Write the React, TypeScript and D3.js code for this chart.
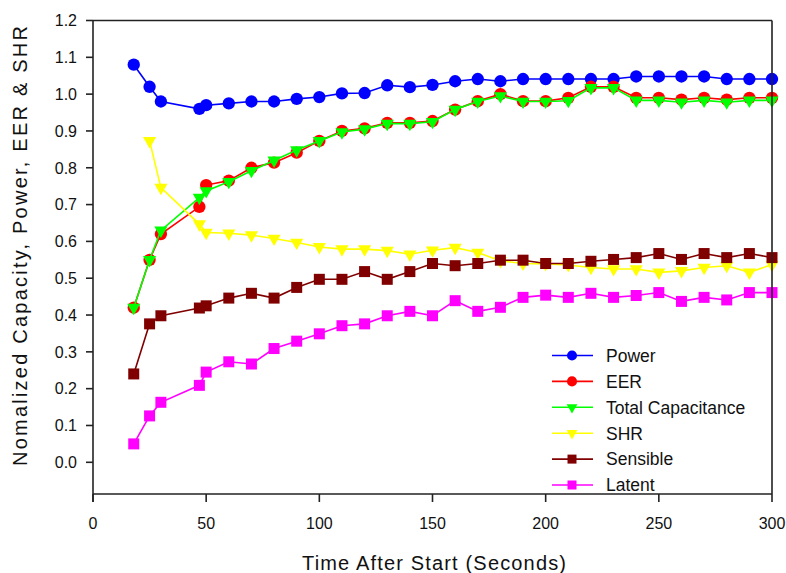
import React from "react";
import * as d3 from "d3";

const time = [18, 25, 30, 47, 50, 60, 70, 80, 90, 100, 110, 120, 130, 140, 150, 160, 170, 180, 190, 200, 210, 220, 230, 240, 250, 260, 270, 280, 290, 300];
const power = [1.08, 1.02, 0.98, 0.96, 0.97, 0.975, 0.98, 0.98, 0.987, 0.992, 1.002, 1.003, 1.024, 1.019, 1.025, 1.035, 1.041, 1.035, 1.041, 1.041, 1.041, 1.041, 1.041, 1.048, 1.048, 1.048, 1.048, 1.041, 1.041, 1.041];
const eer = [0.42, 0.55, 0.62, 0.694, 0.753, 0.765, 0.8, 0.814, 0.841, 0.873, 0.9, 0.907, 0.922, 0.922, 0.927, 0.958, 0.981, 1.0, 0.981, 0.981, 0.99, 1.02, 1.02, 0.99, 0.99, 0.985, 0.99, 0.985, 0.99, 0.99];
const totalCap = [0.42, 0.55, 0.63, 0.719, 0.737, 0.762, 0.792, 0.82, 0.848, 0.873, 0.897, 0.905, 0.92, 0.92, 0.925, 0.958, 0.98, 0.995, 0.98, 0.98, 0.982, 1.017, 1.017, 0.983, 0.983, 0.978, 0.983, 0.978, 0.983, 0.983];
const shr = [null, 0.873, 0.746, 0.647, 0.624, 0.622, 0.617, 0.608, 0.597, 0.585, 0.579, 0.579, 0.575, 0.565, 0.576, 0.583, 0.57, 0.547, 0.54, 0.539, 0.536, 0.529, 0.525, 0.525, 0.516, 0.52, 0.529, 0.534, 0.516, 0.537];
const sensible = [0.24, 0.376, 0.398, 0.419, 0.425, 0.446, 0.459, 0.446, 0.475, 0.497, 0.497, 0.518, 0.497, 0.518, 0.54, 0.534, 0.54, 0.549, 0.549, 0.54, 0.54, 0.546, 0.551, 0.556, 0.567, 0.551, 0.567, 0.556, 0.567, 0.556];
const latent = [0.05, 0.126, 0.163, 0.209, 0.245, 0.273, 0.267, 0.309, 0.329, 0.349, 0.371, 0.376, 0.398, 0.41, 0.398, 0.439, 0.41, 0.421, 0.448, 0.454, 0.448, 0.459, 0.448, 0.453, 0.461, 0.437, 0.448, 0.441, 0.461, 0.461];

const seriesNames = ["Power", "EER", "Total Capacitance", "SHR", "Sensible", "Latent"];
const seriesValues = [power, eer, totalCap, shr, sensible, latent];
const seriesColors = ["#0000ff", "#ff0000", "#00ff00", "#ffff00", "#800000", "#ff00ff"];
const seriesShapes = ["circle", "circle", "triangle", "triangle", "square", "square"];

const xTicks = [0, 50, 100, 150, 200, 250, 300];
const yTicks = [0, 0.1, 0.2, 0.3, 0.4, 0.5, 0.6, 0.7, 0.8, 0.9, 1.0, 1.1, 1.2];

const xTitle = "Time After Start (Seconds)";
const yTitle = "Nomalized Capacity, Power, EER & SHR";

const W = 786, H = 573;
const left = 93, right = 772, top = 20.5, zeroY = 462.3, axisY = 494;
const FONT = "'Liberation Sans', Arial, sans-serif";

function markerPath(shape: string, big: boolean) {
  if (shape === "circle") return d3.symbol(d3.symbolCircle, big ? 120 : 80)()!;
  if (shape === "triangle") return d3.symbol(d3.symbolTriangle, big ? 75 : 50)()!;
  return d3.symbol(d3.symbolSquare, big ? 121 : 81)()!;
}

export default function App() {
  const x = d3.scaleLinear().domain([0, 300]).range([left, right]);
  const y = d3.scaleLinear().domain([0, 1.2]).range([zeroY, top]);
  const axisColor = "#222";

  return (
    <svg width={W} height={H} style={{ position: "absolute", left: 0, top: 0, background: "#fff" }} fontFamily={FONT}>
      <rect x={0} y={0} width={W} height={H} fill="#fff" />
      {seriesValues.map((vals, si) => {
        const pts = time.map((t, i) => ({ t, v: vals[i] })).filter((p) => p.v !== null) as { t: number; v: number }[];
        const line = d3.line<{ t: number; v: number }>().x((p) => x(p.t)).y((p) => y(p.v));
        const mp = markerPath(seriesShapes[si], true);
        const rot = seriesShapes[si] === "triangle" ? " rotate(180)" : "";
        return (
          <g key={si}>
            <path d={line(pts)!} fill="none" stroke={seriesColors[si]} strokeWidth={1.6} />
            {pts.map((p, i) => (
              <path key={i} d={mp} transform={`translate(${x(p.t)},${y(p.v)})${rot}`} fill={seriesColors[si]} />
            ))}
          </g>
        );
      })}
      <line x1={left} x2={right} y1={top} y2={top} stroke={axisColor} strokeWidth={1.6} />
      <line x1={right} x2={right} y1={top} y2={axisY} stroke={axisColor} strokeWidth={1.6} />
      <line x1={left} x2={left} y1={top} y2={axisY + 8} stroke={axisColor} strokeWidth={1.6} />
      <line x1={left} x2={right} y1={axisY} y2={axisY} stroke={axisColor} strokeWidth={1.6} />
      {yTicks.map((t) => (
        <g key={t} transform={`translate(0,${y(t)})`}>
          <line x1={left - 7} x2={left} stroke={axisColor} strokeWidth={1.6} />
          <text x={77} dy="0.36em" textAnchor="end" fontSize={16} fill="#111">{t.toFixed(1)}</text>
        </g>
      ))}
      {xTicks.map((t) => (
        <g key={t} transform={`translate(${x(t)},0)`}>
          <line y1={axisY} y2={axisY + 8} stroke={axisColor} strokeWidth={1.6} />
          <text y={529} textAnchor="middle" fontSize={16} fill="#111">{t}</text>
        </g>
      ))}
      <text x={434} y={570} textAnchor="middle" fontSize={20} fill="#111" textLength={264} lengthAdjust="spacing">{xTitle}</text>
      <text transform="translate(27,246) rotate(-90)" textAnchor="middle" fontSize={20} fill="#111" textLength={440} lengthAdjust="spacing">{yTitle}</text>
      {seriesNames.map((n, i) => {
        const ly = 355.5 + i * 25.9;
        const rot = seriesShapes[i] === "triangle" ? " rotate(180)" : "";
        return (
          <g key={n}>
            <line x1={552} x2={593} y1={ly} y2={ly} stroke={seriesColors[i]} strokeWidth={1.6} />
            <path d={markerPath(seriesShapes[i], false)} transform={`translate(572,${ly})${rot}`} fill={seriesColors[i]} />
            <text x={606} y={ly} dy="0.36em" fontSize={17.5} fill="#111">{n}</text>
          </g>
        );
      })}
    </svg>
  );
}
